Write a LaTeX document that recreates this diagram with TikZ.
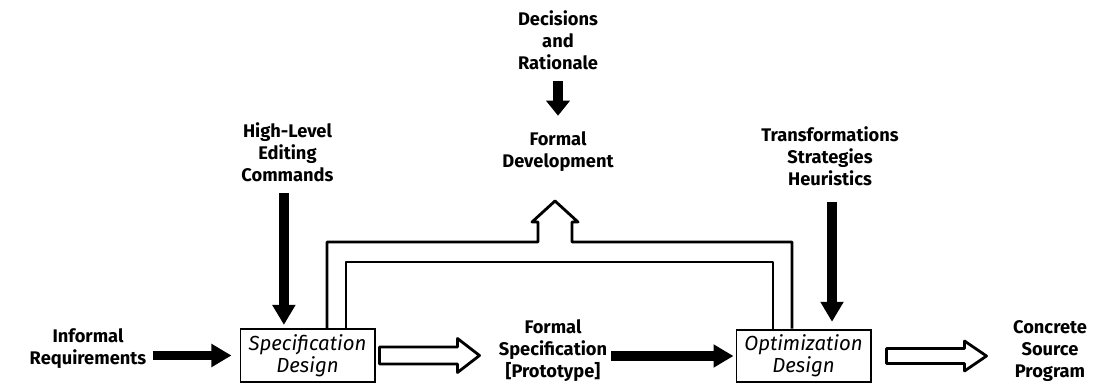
\documentclass[tikz,border=0pt]{standalone}
\usepackage{fontspec}
\setmainfont{Fira Sans}
\usetikzlibrary{arrows.meta,positioning}

\begin{document}
\begin{tikzpicture}[
  x=0.025cm, y=-0.025cm,
  font=\fontsize{13pt}{15.6pt}\selectfont\bfseries,
  label/.style={
    align=center, inner sep=2pt
  },
  stage/.style={
    draw, line width=1.4pt,
    minimum width=3.35cm,
    minimum height=1.32cm,
    align=center, inner sep=1pt,
    font=\fontsize{14.5pt}{14pt}\selectfont\mdseries\itshape
  },
  feed/.style={
    line width=2pt, line join=round
  },
  hollow/.style={
    draw, line width=2pt, fill=white,
    line join=round
  },
  bigarrow/.style={
    line width=7pt,
    -{Triangle[width=0.55cm, length=0.5cm]}
  },
  smallarrow/.style={
    line width=7pt,
    -{Triangle[width=0.58cm, length=0.38cm]}
  }
]
\useasboundingbox (0,0) rectangle (1096,385);

\node[label] (ireq) at (88,348.5)
  {Informal\\Requirements};
\node[stage] (spec) at (307.5,355.5)
  {Specification\\Design};
\node[label] (hlec) at (287.5,152)
  {High-Level\\Editing\\Commands};
\node[label] (dec) at (558,40)
  {Decisions\\and\\Rationale};
\node[label] (fdev) at (558,152)
  {Formal\\Development};
\node[label] (tsh) at (830,156)
  {Transformations\\Strategies\\Heuristics};
\node[label] (fspec) at (553,351)
  {Formal\\Specification\\{}[Prototype]};
\node[stage] (opt) at (803.5,356)
  {Optimization\\Design};
\node[label] (csp) at (1050,351)
  {Concrete\\Source\\Program};

% feedback loop between the two design steps
\coordinate (outL) at (327,242);
\coordinate (outR) at (792,242);
\coordinate (inL) at (346,262);
\coordinate (inR) at (773,262);

\draw[feed] (outL |- spec.north) -- (outL)
  -- (538,242) -- (538,222) -- (532,222)
  -- (555,201) -- (578,222) -- (572,222)
  -- (572,242) -- (outR) -- (outR |- opt.north);
\draw[feed] (inL |- spec.north) -- (inL)
  -- (inR) -- (inR |- opt.north);

% inputs
\draw[bigarrow, shorten <=0.08cm, shorten >=0.2cm]
  (ireq.east |- spec.west) -- (spec.west);
\draw[bigarrow, shorten <=0.22cm, shorten >=0.08cm]
  ([xshift=-0.09cm]hlec.south)
  -- ([xshift=-0.09cm]hlec.south |- spec.north);
\draw[smallarrow, shorten <=0.22cm, shorten >=0.33cm]
  (dec.south) -- (fdev.north);
\draw[bigarrow, shorten <=0.33cm, shorten >=0.17cm]
  ([xshift=0.05cm]tsh.south)
  -- ([xshift=0.05cm]tsh.south |- opt.north);
\draw[bigarrow, shorten <=0.03cm, shorten >=0.05cm]
  (fspec.east |- opt.west) -- (opt.west);

% outputs
\draw[hollow, shift={(spec.east)}]
  (4,-8.5) -- (82,-8.5) -- (82,-17) -- (104,0)
  -- (82,17) -- (82,8.5) -- (4,8.5) -- cycle;
\draw[hollow, shift={(opt.east)}]
  (15,-7.5) -- (93,-7.5) -- (93,-15) -- (115,0)
  -- (93,15) -- (93,7.5) -- (15,7.5) -- cycle;
\end{tikzpicture}
\end{document}
